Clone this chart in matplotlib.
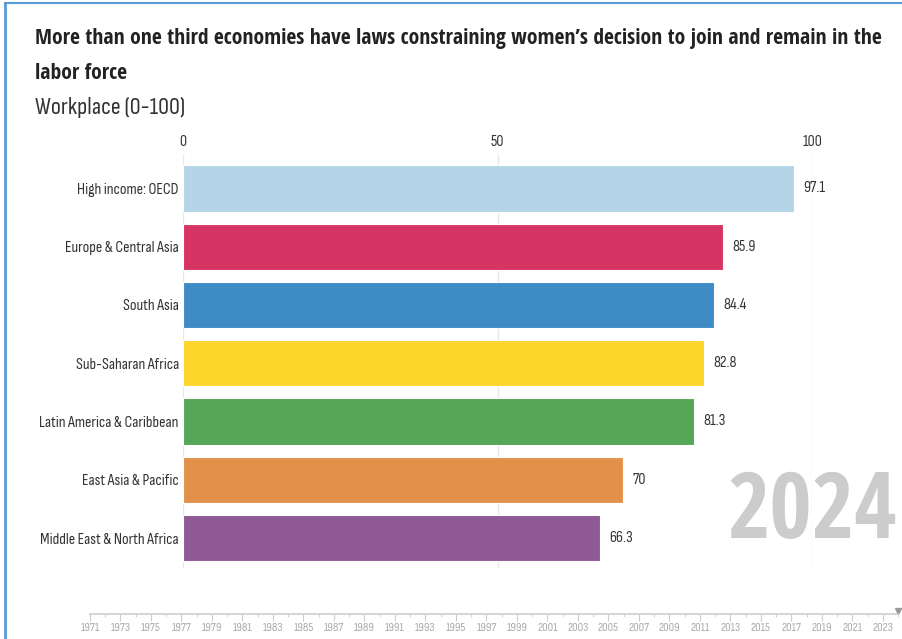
import numpy as np
import matplotlib.pyplot as plt

# datos
regiones = ['High income: OECD', 'Europe & Central Asia', 'South Asia',
            'Sub-Saharan Africa', 'Latin America & Caribbean',
            'East Asia & Pacific', 'Middle East & North Africa']
valores = [97.1, 85.9, 84.4, 82.8, 81.3, 70, 66.3]
etiquetas = ['97.1', '85.9', '84.4', '82.8', '81.3', '70', '66.3']
colores = ['#b4d5e8', '#d63462', '#3f8bc6', '#fed52b', '#56a658', '#e3904b', '#8e5994']
anios = list(range(1971, 2024, 2))
anio_actual = 2024

# fuentes: condensada regular para el texto, condensada negrita para el titulo
plt.rcParams['font.family'] = ['Sofia Sans Condensed', 'Roboto Condensed', 'DejaVu Sans']
titulo_fuente = ['Open Sans Condensed', 'DejaVu Sans']

W, H = 902, 639
fig = plt.figure(figsize=(W / 100, H / 100), dpi=100)

def fx(px):
    return px / W

def fy(py):
    return 1 - py / H

# marco azul
fig.add_artist(plt.Line2D([fx(5), fx(5)], [fy(3), 0], color='#5b9bd5', lw=2))
fig.add_artist(plt.Line2D([fx(5), 1], [fy(3), fy(3)], color='#5b9bd5', lw=1.5))

# titulos
fig.text(fx(35), fy(44), 'More than one third economies have laws constraining women\u2019s decision to join and remain in the',
         fontsize=15.6, fontweight='bold', color='#222222', va='baseline', family=titulo_fuente)
fig.text(fx(35), fy(79), 'labor force', fontsize=15.6, fontweight='bold', color='#222222', va='baseline',
         family=titulo_fuente)
fig.text(fx(35), fy(114), 'Workplace (0-100)', fontsize=17.5, color='#333333', va='baseline')

# grafico de barras
ax = fig.add_axes([fx(183), fy(568), fx(812) - fx(183), fy(155) - fy(568)])
y = np.arange(len(regiones))
ax.barh(y, valores, height=0.79, color=colores, edgecolor='white', linewidth=0.8, zorder=2)
ax.set_xlim(0, 100)
ax.set_ylim(6.515, -0.575)
ax.set_xticks([0, 50, 100])
ax.xaxis.tick_top()
ax.tick_params(axis='x', length=0, pad=4, labelsize=11.5, labelcolor='#333333')
ax.set_yticks(y)
ax.set_yticklabels(regiones)
ax.tick_params(axis='y', length=0, pad=3, labelsize=11.5, labelcolor='#333333')
ax.grid(axis='x', color='#e6e6e6', lw=1, zorder=0)
for s in ax.spines.values():
    s.set_visible(False)
for i, v in enumerate(valores):
    ax.text(v + 1.5, i, etiquetas[i], va='center', ha='left', fontsize=11.5, color='#333333')

# año grande
fig.text(fx(897), fy(514), str(anio_actual), ha='right', va='center',
         fontsize=66, fontweight='bold', color='#cccccc', zorder=1, family=titulo_fuente)

# linea de tiempo
axt = fig.add_axes([fx(90), fy(639), fx(898) - fx(90), fy(614) - fy(639)])
axt.set_xlim(1971, anio_actual)
axt.set_ylim(0, 1)
axt.patch.set_alpha(0)
for s in ['left', 'right', 'bottom']:
    axt.spines[s].set_visible(False)
axt.spines['top'].set_color('#cccccc')
axt.spines['top'].set_linewidth(1.2)
axt.set_yticks([])
axt.set_xticks(anios)
axt.set_xticks(range(1971, 2025), minor=True)
axt.xaxis.set_ticks_position('top')
axt.tick_params(axis='x', which='major', direction='in', length=5, color='#cccccc',
                labeltop=False, labelbottom=False)
axt.tick_params(axis='x', which='minor', direction='in', length=2.5, color='#cccccc')
for a in anios:
    axt.text(a, 0.45, str(a), ha='center', va='center', fontsize=9, color='#aaaaaa')
axt.plot([anio_actual], [1.12], marker='v', color='#999999', markersize=4, clip_on=False)

fig.savefig('out.png', dpi=100)
